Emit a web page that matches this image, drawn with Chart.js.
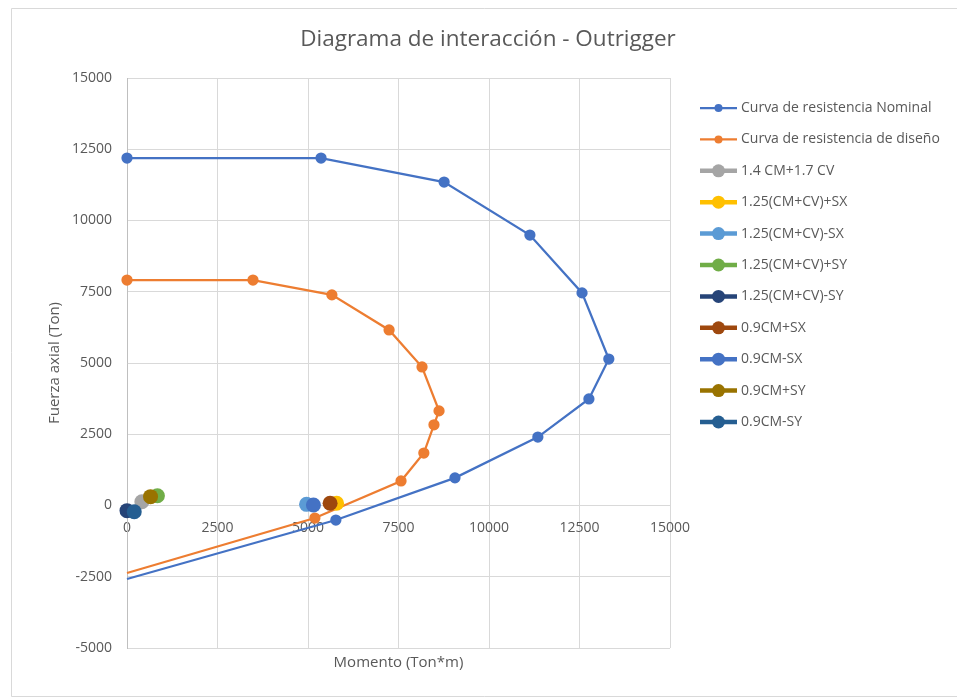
<!DOCTYPE html>
<html lang="es">
<head>
    <meta charset="UTF-8">
    <title>Diagrama de interacción - Outrigger</title>
    <script src="https://cdn.jsdelivr.net/npm/chart.js"></script>
    <style>
        body { margin: 0; background: #fff; }
        canvas { display: block; }
    </style>
</head>
<body>
    <canvas id="chart" width="957" height="698"></canvas>
    <script>
        // Curva nominal (momento, fuerza axial)
        const nominalM = [0, 5360, 8760, 11130, 12570, 13310, 12760, 11350, 9060, 5770, 0];
        const nominalP = [12190, 12190, 11350, 9490, 7460, 5140, 3740, 2400, 970, -510, -2580];

        // Curva de diseño
        const designM = [0, 3480, 5660, 7240, 8150, 8620, 8480, 8200, 7570, 5190, 0];
        const designP = [7910, 7910, 7390, 6160, 4860, 3320, 2830, 1840, 860, -440, -2370];

        // Combinaciones de carga (un punto cada una)
        const comboLabels = ['1.4 CM+1.7 CV', '1.25(CM+CV)+SX', '1.25(CM+CV)-SX', '1.25(CM+CV)+SY',
            '1.25(CM+CV)-SY', '0.9CM+SX', '0.9CM-SX', '0.9CM+SY', '0.9CM-SY'];
        const comboM = [410, 5790, 4960, 840, 0, 5610, 5150, 650, 200];
        const comboP = [130, 80, 40, 340, -180, 80, 20, 310, -220];

        const xTicks = [0, 2500, 5000, 7500, 10000, 12500, 15000];
        const yTicks = [-5000, -2500, 0, 2500, 5000, 7500, 10000, 12500, 15000];

        const comboColors = ['#A5A5A5', '#FFC000', '#5B9BD5', '#70AD47', '#264478',
            '#9E480E', '#4472C4', '#997300', '#255E91'];

        const FONT = "'Open Sans', sans-serif";
        const TEXT = '#595959';

        function toPoints(xs, ys) {
            return xs.map((x, i) => ({ x: x, y: ys[i] }));
        }

        const datasets = [];
        datasets.push({
            label: 'Curva de resistencia Nominal',
            data: toPoints(nominalM, nominalP),
            showLine: true,
            borderColor: '#4472C4',
            backgroundColor: '#4472C4',
            borderWidth: 2.25,
            pointRadius: nominalM.map((m, i) => i === nominalM.length - 1 ? 0 : 4.5),
            legendWidth: 2.25, legendRadius: 4
        });
        datasets.push({
            label: 'Curva de resistencia de diseño',
            data: toPoints(designM, designP),
            showLine: true,
            borderColor: '#ED7D31',
            backgroundColor: '#ED7D31',
            borderWidth: 2.25,
            pointRadius: designM.map((m, i) => i === designM.length - 1 ? 0 : 4.5),
            legendWidth: 2.25, legendRadius: 4
        });
        comboLabels.forEach((label, i) => {
            datasets.push({
                label: label,
                data: [{ x: comboM[i], y: comboP[i] }],
                showLine: false,
                borderColor: comboColors[i],
                backgroundColor: comboColors[i],
                borderWidth: 0,
                pointRadius: 7.5,
                legendWidth: 4.5, legendRadius: 6.5
            });
        });
        // excel pinta las series en orden: la ultima queda encima
        datasets.forEach((ds, i) => {
            ds.order = datasets.length - i;
            ds.clip = false;
            ds.pointHoverRadius = ds.pointRadius;
            ds.tension = 0;
        });

        const decorations = {
            id: 'decorations',
            beforeDraw(chart) {
                const ctx = chart.ctx;
                ctx.save();
                ctx.fillStyle = '#fff';
                ctx.fillRect(0, 0, chart.width, chart.height);
                ctx.strokeStyle = '#d9d9d9';
                ctx.lineWidth = 1;
                ctx.beginPath();
                ctx.moveTo(chart.width, 8.5);
                ctx.lineTo(11.5, 8.5);
                ctx.lineTo(11.5, 696.5);
                ctx.lineTo(chart.width, 696.5);
                ctx.stroke();
                ctx.restore();
            },
            afterDraw(chart) {
                const ctx = chart.ctx;
                const area = chart.chartArea;
                ctx.save();
                ctx.fillStyle = TEXT;
                ctx.textAlign = 'center';
                ctx.textBaseline = 'middle';
                ctx.font = '22.5px ' + FONT;
                ctx.fillText('Diagrama de interacción - Outrigger', 488, 40);

                ctx.font = '15px ' + FONT;
                ctx.fillText('Momento (Ton*m)', (area.left + area.right) / 2, 663);
                ctx.save();
                ctx.translate(55, (area.top + area.bottom) / 2);
                ctx.rotate(-Math.PI / 2);
                ctx.fillText('Fuerza axial (Ton)', 0, 0);
                ctx.restore();

                // leyenda a la derecha
                ctx.textAlign = 'left';
                ctx.font = '14px ' + FONT;
                chart.data.datasets.forEach((ds, i) => {
                    const y = 108 + i * 31.4;
                    ctx.strokeStyle = ds.borderColor;
                    ctx.lineWidth = ds.legendWidth;
                    ctx.beginPath();
                    ctx.moveTo(700, y);
                    ctx.lineTo(737, y);
                    ctx.stroke();
                    ctx.fillStyle = ds.backgroundColor;
                    ctx.beginPath();
                    ctx.arc(718.5, y, ds.legendRadius, 0, Math.PI * 2);
                    ctx.fill();
                    ctx.fillStyle = TEXT;
                    ctx.fillText(ds.label, 741, y);
                });
                ctx.restore();
            }
        };

        new Chart(document.getElementById('chart'), {
            type: 'scatter',
            data: { datasets: datasets },
            options: {
                responsive: false,
                animation: false,
                events: [],
                layout: { padding: { left: 0, top: 78, right: 287, bottom: 50 } },
                plugins: {
                    legend: { display: false },
                    title: { display: false },
                    tooltip: { enabled: false }
                },
                scales: {
                    x: {
                        type: 'linear',
                        position: { y: 0 },
                        min: 0, max: 15000,
                        afterBuildTicks: s => { s.ticks = xTicks.map(v => ({ value: v })); },
                        grid: { color: '#d9d9d9', drawTicks: false },
                        border: { color: '#d9d9d9' },
                        ticks: { color: TEXT, padding: 14, font: { family: FONT, size: 14 }, maxRotation: 0,
                            callback: v => String(v) }
                    },
                    y: {
                        type: 'linear',
                        position: 'left',
                        min: -5000, max: 15000,
                        afterBuildTicks: s => { s.ticks = yTicks.map(v => ({ value: v })); },
                        afterFit: s => { s.width = 127; },
                        grid: { color: '#d9d9d9', drawTicks: false },
                        border: { color: '#bfbfbf' },
                        ticks: { color: TEXT, padding: 15, font: { family: FONT, size: 14 },
                            callback: v => String(v) }
                    }
                }
            },
            plugins: [decorations]
        });
    </script>
</body>
</html>
